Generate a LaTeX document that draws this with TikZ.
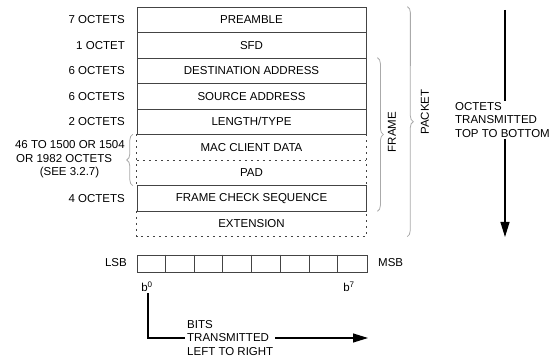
\documentclass[tikz,border=0pt]{standalone}
\usepackage{fontspec}
\setmainfont{Liberation Sans}
\usetikzlibrary{decorations.pathreplacing,arrows.meta}
\definecolor{frameline}{HTML}{444444}
\definecolor{braceline}{HTML}{AAAAAA}

\tikzset{
    field/.style={minimum width=229, minimum height=25.5, inner sep=0pt},
    solidfield/.style={field, draw=frameline, line width=0.8pt},
    dashline/.style={draw=frameline, line width=0.8pt, dash pattern=on 2pt off 4pt},
    sizelabel/.style={anchor=east, inner sep=0pt},
    bracket/.style={draw=braceline, line width=0.8pt, decorate, decoration={brace, amplitude=6pt}},
    flowarrow/.style={draw=black, line width=1.2pt},
}

\begin{document}
\begin{tikzpicture}[x=1pt, y=-1pt, font=\fontsize{11.5}{13.5}\selectfont]
        \useasboundingbox (0,0) rectangle (550,358);
        % fields of the packet
        \node[solidfield] (pre) at (251.5,19.75) {PREAMBLE};
        \node[solidfield] (sfd) at (251.5,45.25) {SFD};
        \node[solidfield] (dst) at (251.5,70.75) {DESTINATION ADDRESS};
        \node[solidfield] (src) at (251.5,96.25) {SOURCE ADDRESS};
        \node[solidfield] (len) at (251.5,121.75) {LENGTH/TYPE};
        \node[field] (mac) at (251.5,147.25) {MAC CLIENT DATA};
        \node[field] (pad) at (251.5,172.75) {PAD};
        \node[solidfield] (fcs) at (251.5,198.25) {FRAME CHECK SEQUENCE};
        \node[field] (ext) at (251.5,223.75) {EXTENSION};
        \draw[dashline] (mac.north west) -- (pad.south west);
        \draw[dashline] (mac.north east) -- (pad.south east);
        \draw[dashline] (mac.south west) -- (mac.south east);
        \draw[dashline] (ext.north west) -- (ext.south west) -- (ext.south east) -- (ext.north east);

        % sizes
        \node[sizelabel] (sizepre) at (125,19.75) {7 OCTETS};
        \node[sizelabel] (sizesfd) at (125,45.25) {1 OCTET};
        \node[sizelabel] (sizedst) at (125,70.75) {6 OCTETS};
        \node[sizelabel] (sizesrc) at (125,96.25) {6 OCTETS};
        \node[sizelabel] (sizelen) at (125,121.75) {2 OCTETS};
        \node[sizelabel, align=right] (sizemac) at (125,159.5) {46 TO 1500 OR 1504\\OR 1982 OCTETS\phantom{00}\\(SEE 3.2.7)\phantom{0000}};
        \node[sizelabel] (sizefcs) at (125,198.25) {4 OCTETS};
        \draw[bracket] ([xshift=-4]pad.south west) -- ([xshift=-4]mac.north west);

        % frame and packet
        \draw[bracket] ([xshift=11]dst.north east) -- ([xshift=11]fcs.south east);
        \node[rotate=90] (framelbl) at (392,132) {FRAME};
        \draw[bracket] ([xshift=41]pre.north east) -- ([xshift=41]ext.south east);
        \node[rotate=90] (packetlbl) at (425,112) {PACKET};

        % octet order
        \coordinate (octtop) at (505,10);
        \coordinate (octbot) at (505,237);
        \node[anchor=west, align=left, inner sep=1pt] (octlbl) at (454,120) {OCTETS\\TRANSMITTED\\TOP TO BOTTOM};
        \draw[flowarrow] (octtop) -- (octtop |- octlbl.north);
        \draw[flowarrow, -{Triangle[length=15pt, width=9pt]}] (octtop |- octlbl.south) -- (octbot);

        % bit order
        \node[draw=frameline, line width=0.8pt, minimum width=230, minimum height=17, inner sep=0pt] (byte) at (252,263.5) {};
        \foreach \i in {1,...,7}
            \draw[frameline, line width=0.8pt] (byte.north west) ++(\i*28.75,0) -- ++(0,17);
        \node[anchor=east, inner sep=0pt] (lsb) at (127,263) {LSB};
        \node[anchor=west, inner sep=0pt] (msb) at (378,263) {MSB};
        \node[inner sep=1pt] (bzero) at (147,287) {b\textsuperscript{0}};
        \node[inner sep=1pt] (bseven) at (349,287) {b\textsuperscript{7}};
        \coordinate (bitcorner) at (148,338);
        \coordinate (bitend) at (368,338);
        \node[anchor=west, align=left, inner sep=2pt] (bitslbl) at (185,338) {BITS\\TRANSMITTED\\LEFT TO RIGHT};
        \draw[flowarrow] (bzero.south -| bitcorner) -- (bitcorner) -- (bitslbl.west);
        \draw[flowarrow, -{Triangle[length=15pt, width=9pt]}] (bitslbl.east) -- (bitend);
    \end{tikzpicture}
\end{document}
